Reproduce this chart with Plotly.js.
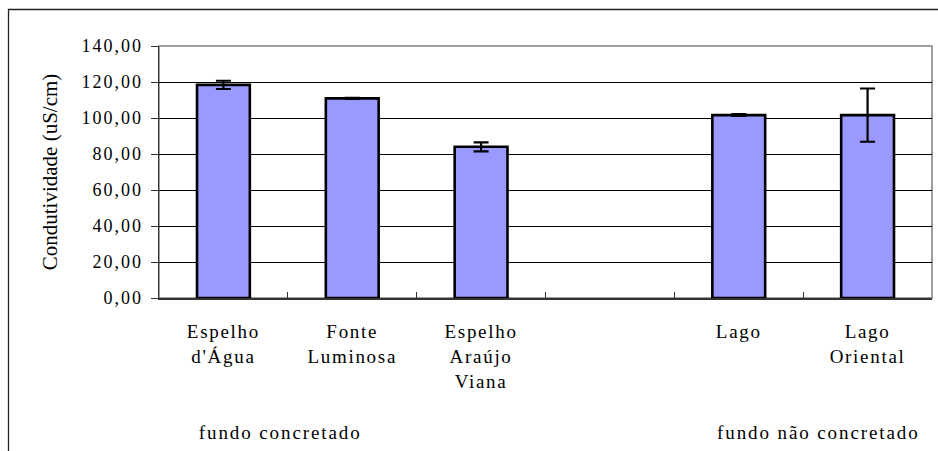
<!DOCTYPE html>
<html>
<head>
<meta charset="utf-8">
<script src="https://cdn.plot.ly/plotly-3.0.1.min.js"></script>
<style>
  html, body { margin: 0; padding: 0; background: #fff; }
  #chart { width: 938px; height: 451px; }
  #chart .xtick text { letter-spacing: 1.7px; }
  #chart .ytick text { letter-spacing: 2px; }
  #chart .annotation-text { letter-spacing: 1.9px; }
</style>
</head>
<body>
<div id="chart"></div>
<script>
// ---- data ----
const categories = ["Espelho<br>d'Água", "Fonte<br>Luminosa", "Espelho<br>Araújo<br>Viana", " ", "Lago", "Lago<br>Oriental"];
const conductivity = [118.4, 110.9, 84.0, null, 101.6, 101.6];
const stdError = [2.3, 0.3, 2.5, null, 0.5, 14.8];
const groupLabels = ["fundo concretado", "fundo não concretado"];
const yTicks = [0, 20, 40, 60, 80, 100, 120, 140];
const yTitle = "Condutividade (uS/cm)";

// ---- layout geometry (pixels) ----
const W = 938, H = 451;
const M = { l: 159, r: 6, t: 46, b: 153 };
const pw = W - M.l - M.r, ph = H - M.t - M.b;
const px = x => (x - M.l) / pw;         // pixel x -> paper x
const py = y => (H - M.b - y) / ph;     // pixel y -> paper y

const font = "Liberation Serif";

const trace = {
  type: 'bar',
  x: categories,
  y: conductivity,
  marker: { color: '#9999FF', line: { color: '#000000', width: 2.6 } },
  error_y: { type: 'data', array: stdError, visible: true, color: '#000000', thickness: 2.2, width: 7.5 },
  hoverinfo: 'x+y'
};

const layout = {
  width: W, height: H,
  margin: M,
  paper_bgcolor: '#ffffff',
  plot_bgcolor: '#ffffff',
  separators: ',.',
  showlegend: false,
  bargap: 0.59,
  font: { family: font, color: '#000000' },
  xaxis: {
    type: 'category',
    categoryorder: 'array',
    categoryarray: categories,
    tickson: 'boundaries',
    ticks: 'inside',
    ticklen: 6,
    tickwidth: 1,
    tickcolor: '#333333',
    showline: true,
    linecolor: '#333333',
    linewidth: 1.5,
    showgrid: false,
    zeroline: false,
    tickfont: { family: font, size: 19, color: '#000000' },
    ticklabelstandoff: 16,
    fixedrange: true
  },
  yaxis: {
    range: [0, 140],
    tickvals: yTicks,
    tickformat: '.2f',
    ticks: 'outside',
    ticklen: 7,
    tickwidth: 1,
    tickcolor: '#333333',
    showline: true,
    linecolor: '#333333',
    linewidth: 1.5,
    showgrid: true,
    gridcolor: '#000000',
    gridwidth: 1,
    zeroline: false,
    tickfont: { family: font, size: 18, color: '#000000' },
    ticklabelstandoff: 4,
    title: { text: yTitle, font: { family: font, size: 21, color: '#000000' }, standoff: 30 },
    fixedrange: true
  },
  shapes: [
    // plot-area frame (grey top/right)
    { type: 'rect', xref: 'paper', yref: 'paper', x0: 0, x1: 1, y0: 0, y1: 1,
      line: { color: '#808080', width: 1.5 }, fillcolor: 'rgba(0,0,0,0)', layer: 'below' },
    // outer chart frame (only left/top visible)
    { type: 'rect', xref: 'paper', yref: 'paper', x0: px(8.5), x1: px(945), y0: py(460), y1: py(9.5),
      line: { color: '#222222', width: 1.3 }, fillcolor: 'rgba(0,0,0,0)', layer: 'below' }
  ],
  annotations: [
    { xref: 'paper', yref: 'paper', x: px(280), y: py(432), text: groupLabels[0], showarrow: false,
      xanchor: 'center', yanchor: 'middle', font: { family: font, size: 19, color: '#000000' } },
    { xref: 'paper', yref: 'paper', x: px(818), y: py(432), text: groupLabels[1], showarrow: false,
      xanchor: 'center', yanchor: 'middle', font: { family: font, size: 19, color: '#000000' } }
  ]
};

Plotly.newPlot('chart', [trace], layout, { displayModeBar: false, staticPlot: true });
</script>
</body>
</html>
